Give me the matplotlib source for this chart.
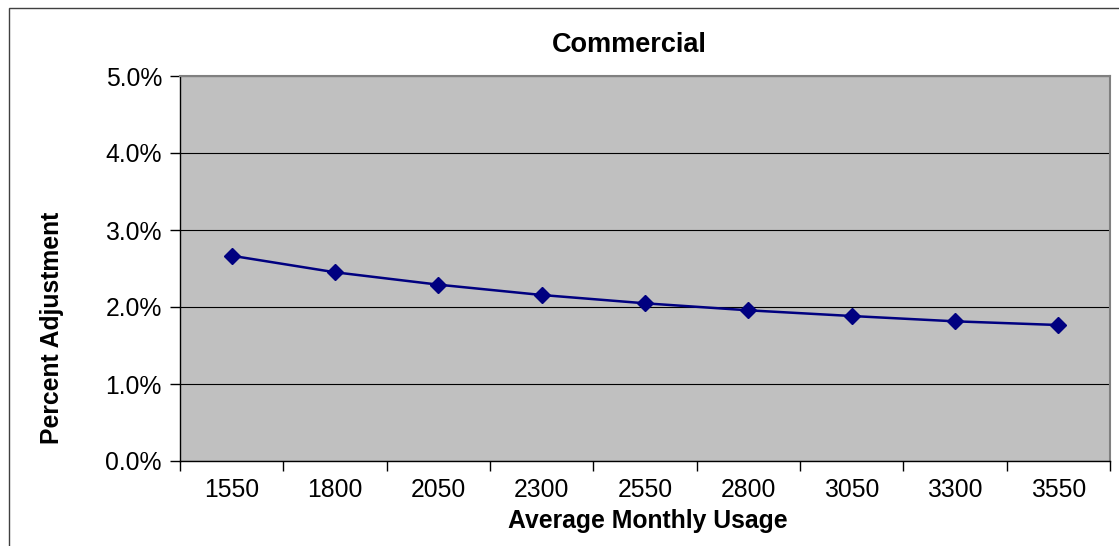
import matplotlib.pyplot as plt
from matplotlib.patches import Rectangle
from matplotlib.ticker import FuncFormatter

plt.rcParams['font.family'] = ['Liberation Sans', 'DejaVu Sans']

uso = ['1550', '1800', '2050', '2300', '2550', '2800', '3050', '3300', '3550']
ajuste = [2.666, 2.451, 2.290, 2.156, 2.048, 1.957, 1.883, 1.814, 1.766]

W, H = 1119, 546
fig = plt.figure(figsize=(W / 100, H / 100), dpi=100)

# moldura do grafico (cortada a direita e embaixo)
fig.patches.append(Rectangle((9 / W, -0.1), 1.2, 1 - 8 / H + 0.1, transform=fig.transFigure,
                             fill=False, edgecolor='#404040', linewidth=1))

ax = fig.add_axes([180 / W, 1 - 461 / H, (1110 - 180) / W, (461 - 76) / H])
ax.set_facecolor('#C0C0C0')

x = list(range(len(uso)))
ax.plot(x, ajuste, color='#000080', linewidth=1.8, marker='D', markersize=8.5,
        markerfacecolor='#000080', markeredgecolor='#000080', zorder=3)

ax.set_xlim(-0.5, len(uso) - 0.5)
ax.set_ylim(0, 5)
ax.set_yticks([0, 1, 2, 3, 4, 5])
ax.yaxis.set_major_formatter(FuncFormatter(lambda v, p: f'{v:.1f}%'))
ax.grid(axis='y', color='black', linewidth=0.8)
ax.set_axisbelow(True)

# ticks entre as categorias, rotulos no centro
ax.set_xticks([i - 0.5 for i in range(len(uso) + 1)])
ax.set_xticklabels([])
ax.set_xticks(x, minor=True)
ax.set_xticklabels(uso, minor=True)
ax.tick_params(axis='x', which='minor', length=0, labelsize=17.8, pad=12)
ax.tick_params(axis='x', which='major', length=7, width=1, color='black')
ax.tick_params(axis='y', length=7, width=1, labelsize=17.8, pad=6)

for lado in ['top', 'right']:
    ax.spines[lado].set_color('#808080')
    ax.spines[lado].set_linewidth(1.5)
for lado in ['left', 'bottom']:
    ax.spines[lado].set_color('black')
    ax.spines[lado].set_linewidth(1)

fig.text(629 / W, 1 - 45 / H, 'Commercial', ha='center', va='center',
         fontsize=19.5, fontweight='bold')
fig.text(648 / W, 1 - 521 / H, 'Average Monthly Usage', ha='center', va='center',
         fontsize=17.8, fontweight='bold')
fig.text(52.5 / W, 1 - 327.5 / H, 'Percent Adjustment', ha='center', va='center',
         rotation=90, fontsize=17.8, fontweight='bold')

fig.savefig('out.png', dpi=100)
